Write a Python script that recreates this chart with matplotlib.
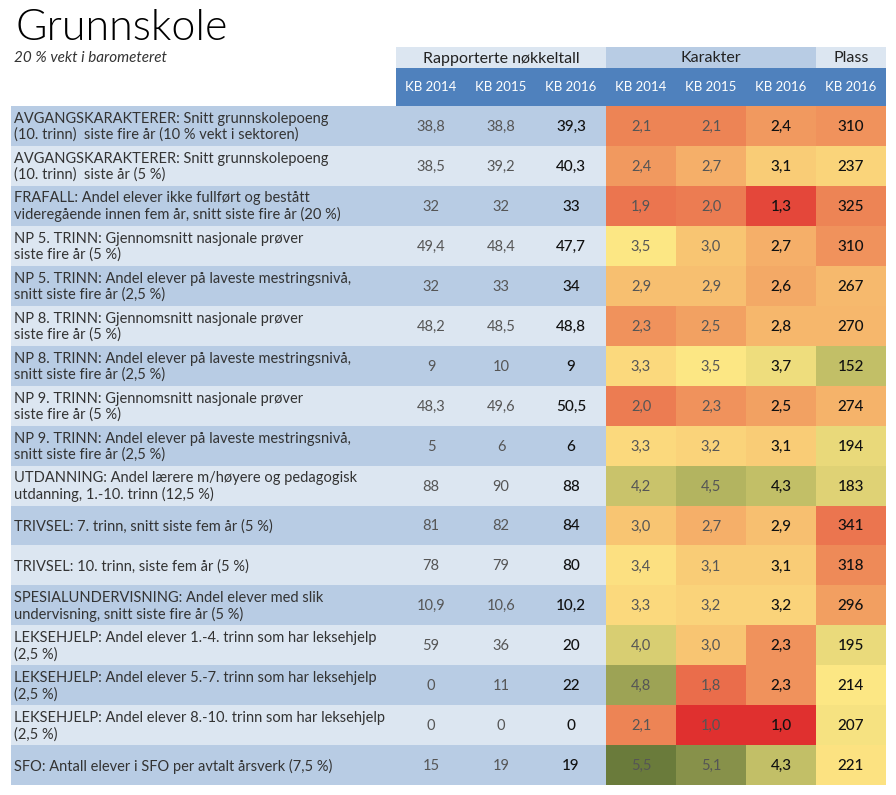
import numpy as np
import matplotlib.pyplot as plt
from matplotlib.colors import LinearSegmentedColormap, Normalize

plt.rcParams['font.family'] = ['Lato', 'DejaVu Sans']

# Data
labels = [
    "AVGANGSKARAKTERER: Snitt grunnskolepoeng\n(10. trinn)  siste fire år (10 % vekt i sektoren)",
    "AVGANGSKARAKTERER: Snitt grunnskolepoeng\n(10. trinn)  siste år (5 %)",
    "FRAFALL: Andel elever ikke fullført og bestått\nvideregående innen fem år, snitt siste fire år (20 %)",
    "NP 5. TRINN: Gjennomsnitt nasjonale prøver\nsiste fire år (5 %)",
    "NP 5. TRINN: Andel elever på laveste mestringsnivå,\nsnitt siste fire år (2,5 %)",
    "NP 8. TRINN: Gjennomsnitt nasjonale prøver\nsiste fire år (5 %)",
    "NP 8. TRINN: Andel elever på laveste mestringsnivå,\nsnitt siste fire år (2,5 %)",
    "NP 9. TRINN: Gjennomsnitt nasjonale prøver\nsiste fire år (5 %)",
    "NP 9. TRINN: Andel elever på laveste mestringsnivå,\nsnitt siste fire år (2,5 %)",
    "UTDANNING: Andel lærere m/høyere og pedagogisk\nutdanning, 1.-10. trinn (12,5 %)",
    "TRIVSEL: 7. trinn, snitt siste fem år (5 %)",
    "TRIVSEL: 10. trinn, siste fem år (5 %)",
    "SPESIALUNDERVISNING: Andel elever med slik\nundervisning, snitt siste fire år (5 %)",
    "LEKSEHJELP: Andel elever 1.-4. trinn som har leksehjelp\n(2,5 %)",
    "LEKSEHJELP: Andel elever 5.-7. trinn som har leksehjelp\n(2,5 %)",
    "LEKSEHJELP: Andel elever 8.-10. trinn som har leksehjelp\n(2,5 %)",
    "SFO: Antall elever i SFO per avtalt årsverk (7,5 %)",
]
decimals = [1, 1, 0, 1, 0, 1, 0, 1, 0, 0, 0, 0, 1, 0, 0, 0, 0]

kb2014 = [38.8, 38.5, 32, 49.4, 32, 48.2, 9, 48.3, 5, 88, 81, 78, 10.9, 59, 0, 0, 15]
kb2015 = [38.8, 39.2, 32, 48.4, 33, 48.5, 10, 49.6, 6, 90, 82, 79, 10.6, 36, 11, 0, 19]
kb2016 = [39.3, 40.3, 33, 47.7, 34, 48.8, 9, 50.5, 6, 88, 84, 80, 10.2, 20, 22, 0, 19]

kar2014 = [2.1, 2.4, 1.9, 3.5, 2.9, 2.3, 3.3, 2.0, 3.3, 4.2, 3.0, 3.4, 3.3, 4.0, 4.8, 2.1, 5.5]
kar2015 = [2.1, 2.7, 2.0, 3.0, 2.9, 2.5, 3.5, 2.3, 3.2, 4.5, 2.7, 3.1, 3.2, 3.0, 1.8, 1.0, 5.1]
kar2016 = [2.4, 3.1, 1.3, 2.7, 2.6, 2.8, 3.7, 2.5, 3.1, 4.3, 2.9, 3.1, 3.2, 2.3, 2.3, 1.0, 4.3]

plass2016 = [310, 237, 325, 310, 267, 270, 152, 274, 194, 183, 341, 318, 296, 195, 214, 207, 221]

col_labels = ['KB 2014', 'KB 2015', 'KB 2016']
group_labels = ['Rapporterte nøkkeltall', 'Karakter', 'Plass']

# colours for grades 1 (red) .. 5.5 (green)
grade_cmap = LinearSegmentedColormap.from_list('grade', [
    (0.0, '#e0302f'), (0.22, '#ec7c52'), (0.44, '#f8c472'),
    (0.555, '#fde784'), (0.78, '#b3b460'), (1.0, '#6a7b3b')])
grade_norm = Normalize(1.0, 5.5)
# rank: low rank = good (green), high rank = bad (red)
plass_cmap = grade_cmap.reversed()
plass_norm = Normalize(57, 412)

# Layout (pixels)
fig = plt.figure(figsize=(8.96, 7.95), dpi=100)
ax = fig.add_axes([0, 0, 1, 1])
ax.set_xlim(0, 896)
ax.set_ylim(795, 0)
ax.axis('off')

left, label_w, col_w = 11, 385, 70
top_h1, top_h2 = 47, 68
row0, row_h = 106, 39.95
n = len(labels)
col_x = left + label_w + col_w * np.arange(8)
row_y = row0 + row_h * np.arange(n + 1)

light, dark, blue = '#dce6f1', '#b8cce4', '#4f81bd'

# title
ax.text(16, 40, 'Grunnskole', fontsize=31, fontweight=300, color='black')
ax.text(14, 62, '20 % vekt i barometeret', fontsize=11, fontstyle='italic', color='#333333')

# group header
grp_edges = [(col_x[0], col_x[3]), (col_x[3], col_x[6]), (col_x[6], col_x[7])]
for (x0, x1), g, c in zip(grp_edges, group_labels, [light, dark, light]):
    ax.add_patch(plt.Rectangle((x0, top_h1), x1 - x0, top_h2 - top_h1, color=c, lw=0))
    ax.text((x0 + x1) / 2, (top_h1 + top_h2) / 2 + 1, g, ha='center', va='center',
            fontsize=11.5, color='#222222')
ax.add_patch(plt.Rectangle((col_x[0], top_h2), col_x[7] - col_x[0], row0 - top_h2,
                           color=blue, lw=0))
for i, cl in enumerate(col_labels * 2 + ['KB 2016']):
    ax.text((col_x[i] + col_x[i + 1]) / 2, (top_h2 + row0) / 2, cl, ha='center',
            va='center', fontsize=9.5, color='white')

# row backgrounds + labels + key figures
for r in range(n):
    y0, y1 = row_y[r], row_y[r + 1]
    c = dark if r % 2 == 0 else light
    ax.add_patch(plt.Rectangle((left, y0), col_x[3] - left, y1 - y0, color=c, lw=0))
    ax.text(left + 3, (y0 + y1) / 2 + 1, labels[r], ha='left', va='center',
            fontsize=10.5, color='#333333', linespacing=1.15)
    for j, vals in enumerate([kb2014, kb2015, kb2016]):
        s = f'{vals[r]:.{decimals[r]}f}'.replace('.', ',')
        ax.text((col_x[j] + col_x[j + 1]) / 2, (y0 + y1) / 2 + 1, s, ha='center',
                va='center', fontsize=10.5 if j < 2 else 11,
                color='#111111' if j == 2 else '#555555',
                fontweight='medium' if j == 2 else 'normal')

# grade heat cells
kar = np.array([kar2014, kar2015, kar2016]).T
ax.pcolormesh(col_x[3:7], row_y, kar, cmap=grade_cmap, norm=grade_norm)
plass = np.array(plass2016).reshape(-1, 1)
ax.pcolormesh(col_x[6:8], row_y, plass, cmap=plass_cmap, norm=plass_norm)

for r in range(n):
    yc = (row_y[r] + row_y[r + 1]) / 2 + 1
    for j in range(3):
        ax.text((col_x[3 + j] + col_x[4 + j]) / 2, yc, f'{kar[r, j]:.1f}'.replace('.', ','),
                ha='center', va='center', fontsize=10.5 if j < 2 else 11,
                color='#111111' if j == 2 else '#555555',
                fontweight='medium' if j == 2 else 'normal')
    ax.text((col_x[6] + col_x[7]) / 2, yc, str(plass2016[r]), ha='center', va='center',
            fontsize=11, color='#111111', fontweight='medium')

plt.savefig('out.png', dpi=100)
